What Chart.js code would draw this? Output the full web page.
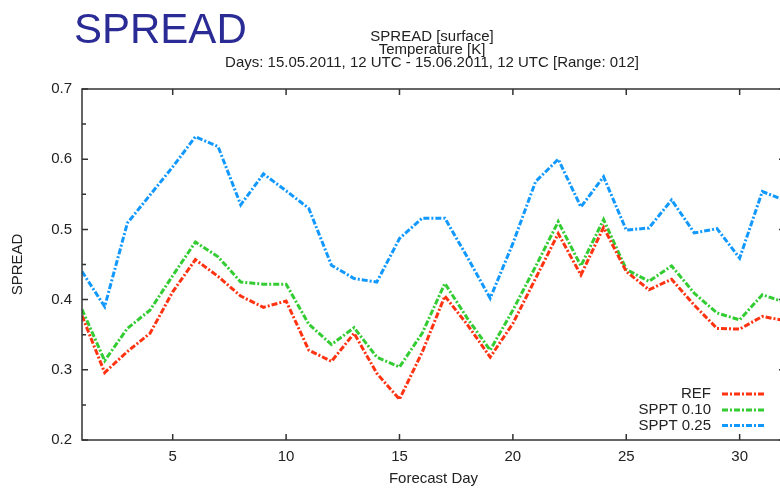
<!DOCTYPE html>
<html>
<head>
<meta charset="utf-8">
<title>SPREAD</title>
<script src="https://cdn.jsdelivr.net/npm/chart.js@4.4.1/dist/chart.umd.min.js"></script>
<style>
  html, body { margin: 0; padding: 0; background: #ffffff; overflow: hidden; width: 780px; height: 488px; }
  canvas { display: block; }
</style>
</head>
<body>
<canvas id="spreadChart" width="790" height="488"></canvas>
<script>
// Forecast days and spread of surface temperature [K] per experiment
const forecastDays = [1, 2, 3, 4, 5, 6, 7, 8, 9, 10, 11, 12, 13, 14, 15, 16,
                      17, 18, 19, 20, 21, 22, 23, 24, 25, 26, 27, 28, 29, 30, 31, 32];
const refSpread = [0.377, 0.296, 0.326, 0.352, 0.411, 0.457, 0.433, 0.405, 0.389, 0.398, 0.328, 0.312, 0.352, 0.295, 0.258, 0.325,
                   0.405, 0.364, 0.318, 0.366, 0.430, 0.494, 0.435, 0.503, 0.440, 0.414, 0.429, 0.392, 0.359, 0.358, 0.376, 0.370];
const sppt010Spread = [0.386, 0.313, 0.359, 0.385, 0.434, 0.482, 0.461, 0.425, 0.422, 0.422, 0.365, 0.336, 0.360, 0.318, 0.304, 0.352,
                       0.423, 0.373, 0.328, 0.385, 0.447, 0.511, 0.448, 0.514, 0.443, 0.426, 0.448, 0.409, 0.381, 0.371, 0.407, 0.396];
const sppt025Spread = [0.440, 0.390, 0.509, 0.549, 0.589, 0.632, 0.618, 0.535, 0.579, 0.555, 0.530, 0.449, 0.430, 0.425, 0.487, 0.516,
                       0.516, 0.460, 0.402, 0.480, 0.568, 0.600, 0.532, 0.575, 0.499, 0.502, 0.542, 0.495, 0.501, 0.459, 0.554, 0.541];
const seriesNames = ['REF', 'SPPT 0.10', 'SPPT 0.25'];
const seriesColors = ['#ff3311', '#33cc33', '#1199ff'];

const xTickValues = [5, 10, 15, 20, 25, 30];
const yTickValues = [0.2, 0.3, 0.4, 0.5, 0.6, 0.7];

const headline = 'SPREAD';
const titleLines = [
  'SPREAD [surface]',
  'Temperature [K]',
  'Days: 15.05.2011, 12 UTC - 15.06.2011, 12 UTC [Range: 012]'
];
const xAxisTitle = 'Forecast Day';
const yAxisTitle = 'SPREAD';

const FONT_FAMILY = '"Liberation Sans", Arial, Helvetica, sans-serif';
const TEXT_COLOR = '#222222';
const FRAME_COLOR = '#333333';
const DASH = [6, 2, 2, 2];

function toPoints(values) {
  return forecastDays.map((d, i) => ({ x: d, y: values[i] }));
}

function lineDataset(label, values, color) {
  return {
    label: label,
    data: toPoints(values),
    borderColor: color,
    backgroundColor: color,
    borderWidth: 3,
    borderDash: DASH,
    borderCapStyle: 'butt',
    borderJoinStyle: 'miter',
    pointRadius: 0,
    tension: 0,
    fill: false
  };
}

// Plot box with inward ticks on all four sides (gnuplot style)
const framePlugin = {
  id: 'frame',
  afterDatasetsDraw(chart) {
    const { ctx, chartArea: a, scales: { x, y } } = chart;
    ctx.save();
    ctx.strokeStyle = FRAME_COLOR;
    ctx.lineWidth = 1.5;
    ctx.setLineDash([]);
    ctx.strokeRect(a.left, a.top, a.right - a.left, a.bottom - a.top);
    ctx.beginPath();
    xTickValues.forEach(v => {
      const px = x.getPixelForValue(v);
      ctx.moveTo(px, a.bottom); ctx.lineTo(px, a.bottom - 6);
      ctx.moveTo(px, a.top); ctx.lineTo(px, a.top + 6);
    });
    yTickValues.forEach((v, i) => {
      const py = y.getPixelForValue(v);
      ctx.moveTo(a.left, py); ctx.lineTo(a.left + 6, py);
      ctx.moveTo(a.right, py); ctx.lineTo(a.right - 6, py);
      if (i < yTickValues.length - 1) {
        const pm = y.getPixelForValue((v + yTickValues[i + 1]) / 2);
        ctx.moveTo(a.left, pm); ctx.lineTo(a.left + 4, pm);
        ctx.moveTo(a.right, pm); ctx.lineTo(a.right - 4, pm);
      }
    });
    ctx.stroke();
    ctx.restore();
  }
};

// Page headline and the centred three-line title
const headingPlugin = {
  id: 'heading',
  afterDraw(chart) {
    const { ctx, chartArea: a } = chart;
    ctx.save();
    ctx.fillStyle = '#2b2b96';
    ctx.font = '42px ' + FONT_FAMILY;
    ctx.textAlign = 'left';
    ctx.textBaseline = 'alphabetic';
    ctx.fillText(headline, 74, 43);

    ctx.fillStyle = TEXT_COLOR;
    ctx.font = '15px ' + FONT_FAMILY;
    ctx.textAlign = 'center';
    const cx = 432;
    const baselines = [40.5, 53.8, 67];
    titleLines.forEach((t, i) => ctx.fillText(t, cx, baselines[i]));
    ctx.restore();
  }
};

// Key in the lower right corner: label text followed by a line sample
const keyPlugin = {
  id: 'key',
  afterDraw(chart) {
    const { ctx } = chart;
    const rowsY = [394, 410, 425.5];
    ctx.save();
    ctx.font = '15px ' + FONT_FAMILY;
    ctx.fillStyle = TEXT_COLOR;
    ctx.textAlign = 'right';
    ctx.textBaseline = 'middle';
    chart.data.datasets.forEach((ds, i) => {
      const yy = rowsY[i];
      ctx.fillText(ds.label, 711, yy);
      ctx.beginPath();
      ctx.strokeStyle = ds.borderColor;
      ctx.lineWidth = 3;
      ctx.lineCap = 'butt';
      ctx.setLineDash(DASH);
      ctx.moveTo(722, yy);
      ctx.lineTo(766, yy);
      ctx.stroke();
    });
    ctx.restore();
  }
};

const axisFont = { family: FONT_FAMILY, size: 15 };

new Chart(document.getElementById('spreadChart'), {
  type: 'line',
  data: {
    datasets: [
      lineDataset(seriesNames[0], refSpread, seriesColors[0]),
      lineDataset(seriesNames[1], sppt010Spread, seriesColors[1]),
      lineDataset(seriesNames[2], sppt025Spread, seriesColors[2])
    ]
  },
  options: {
    responsive: false,
    animation: false,
    layout: { padding: { top: 89, right: 5, bottom: 0, left: 0 } },
    plugins: {
      legend: { display: false },
      tooltip: { enabled: false },
      title: { display: false }
    },
    scales: {
      x: {
        type: 'linear',
        min: 1,
        max: 32,
        grid: { display: false, drawTicks: false },
        border: { display: false },
        afterBuildTicks: s => { s.ticks = xTickValues.map(v => ({ value: v })); },
        afterFit: s => { s.height = 48; },
        ticks: {
          padding: 8,
          autoSkip: false,
          maxRotation: 0,
          color: TEXT_COLOR,
          font: axisFont,
          callback: v => String(v)
        },
        title: {
          display: true,
          text: xAxisTitle,
          color: TEXT_COLOR,
          font: axisFont,
          padding: { top: 0, bottom: 0 }
        }
      },
      y: {
        type: 'linear',
        min: 0.2,
        max: 0.7,
        grid: { display: false, drawTicks: false },
        border: { display: false },
        afterBuildTicks: s => { s.ticks = yTickValues.map(v => ({ value: v })); },
        afterFit: s => { s.width = 82; },
        ticks: {
          padding: 10,
          color: TEXT_COLOR,
          font: axisFont,
          callback: v => Number(v).toFixed(1)
        },
        title: {
          display: true,
          text: yAxisTitle,
          color: TEXT_COLOR,
          font: axisFont,
          padding: { top: 9, bottom: 0 }
        }
      }
    }
  },
  plugins: [framePlugin, headingPlugin, keyPlugin]
});
</script>
</body>
</html>
